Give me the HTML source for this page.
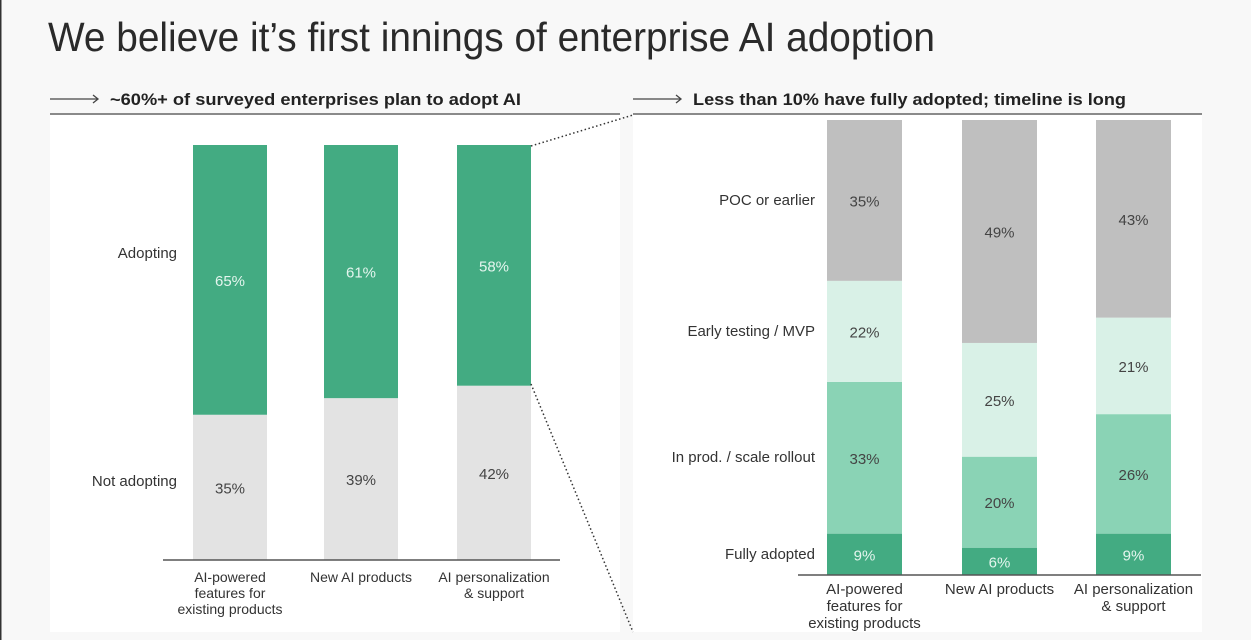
<!DOCTYPE html>
<html><head><meta charset="utf-8"><style>
html,body{margin:0;padding:0;background:#f8f8f8;}
svg{display:block;font-family:"Liberation Sans",sans-serif;}
</style></head><body>
<svg width="1251" height="640" viewBox="0 0 1251 640">
<rect x="0" y="0" width="1251" height="640" fill="#f8f8f8"/>
<rect x="0" y="0" width="1.5" height="640" fill="#333"/>
<text x="48" y="51" font-size="41" fill="#2a2a2a" textLength="887" lengthAdjust="spacingAndGlyphs">We believe it’s first innings of enterprise AI adoption</text>
<rect x="50" y="115" width="570" height="517" fill="#fff"/>
<rect x="633" y="115" width="569" height="517" fill="#fff"/>
<g>
<line x1="50" y1="99" x2="97" y2="99" stroke="#444" stroke-width="1.3"/><path d="M93 95 L98 99 L93 103" fill="none" stroke="#444" stroke-width="1.3"/>
<text x="110" y="105" font-size="17" font-weight="bold" fill="#222" textLength="411" lengthAdjust="spacingAndGlyphs">~60%+ of surveyed enterprises plan to adopt AI</text>
<line x1="50" y1="114" x2="620" y2="114" stroke="#666" stroke-width="1.5"/>
</g>
<g>
<line x1="633" y1="99" x2="680" y2="99" stroke="#444" stroke-width="1.3"/><path d="M676 95 L681 99 L676 103" fill="none" stroke="#444" stroke-width="1.3"/>
<text x="693" y="105" font-size="17" font-weight="bold" fill="#222" textLength="433" lengthAdjust="spacingAndGlyphs">Less than 10% have fully adopted; timeline is long</text>
<line x1="633" y1="114" x2="1202" y2="114" stroke="#666" stroke-width="1.5"/>
</g>
<g id="left"></g>
<g id="right"></g>
<line x1="531" y1="146" x2="633" y2="115" stroke="#333" stroke-width="1.5" stroke-dasharray="1.5 2.5"/>
<line x1="531" y1="384" x2="633" y2="632" stroke="#333" stroke-width="1.5" stroke-dasharray="1.5 2.5"/>
</svg>
<script>
const NS="http://www.w3.org/2000/svg";
const leftCats=[["AI-powered","features for","existing products"],["New AI products"],["AI personalization","& support"]];
const notAdopting=[35,39,42];
const adopting=[65,61,58];
const rightCats=[["AI-powered","features for","existing products"],["New AI products"],["AI personalization","& support"]];
const fullyAdopted=[9,6,9];
const inProd=[33,20,26];
const earlyTesting=[22,25,21];
const pocEarlier=[35,49,43];

function mk(p,tag,a,txt){const e=document.createElementNS(NS,tag);for(const k in a)e.setAttribute(k,a[k]);if(txt!==undefined)e.textContent=txt;p.appendChild(e);return e;}

// left chart
const L=document.getElementById('left');
const lBase=560,lTop=145,lX=[193,324,457],lW=74;
const ly=v=>lBase-(lBase-lTop)*v/100;
const lSeries=[{d:notAdopting,c:"#e3e3e3",t:"#444",n:"not-adopting"},{d:adopting,c:"#43ab82",t:"#e4f5ee",n:"adopting"}];
lX.forEach((x,i)=>{
  let cum=0;
  lSeries.forEach(s=>{
    const v=s.d[i];const y0=ly(cum),y1=ly(cum+v);cum+=v;
    const r=mk(L,'rect',{x:x,y:y1,width:lW,height:y0-y1,fill:s.c});
    
    
    const t=mk(L,'text',{x:x+lW/2,y:(y0+y1)/2+6,'font-size':15,'text-anchor':'middle',fill:s.t},v+'%');
    
    
  });
  const g=mk(L,'text',{'font-size':14,'text-anchor':'middle',fill:'#333'});
  
  
  leftCats[i].forEach((s,j)=>mk(g,'tspan',{x:x+lW/2,y:582+j*16},s));
});
const la=mk(L,'line',{x1:163,y1:lBase,x2:560,y2:lBase,stroke:'#555','stroke-width':1.5});


[["Adopting",258],["Not adopting",486]].forEach(([s,y])=>{
  const t=mk(L,'text',{x:177,y:y,'font-size':15,'text-anchor':'end',fill:'#333'},s);
  
  
});

// right chart
const R=document.getElementById('right');
const rBase=575,rTop=120,rX=[827,962,1096],rW=75;
const rSeries=[{d:fullyAdopted,c:"#43ab82",t:"#e4f5ee",n:"fully-adopted"},{d:inProd,c:"#8ad3b5",t:"#444",n:"in-prod"},{d:earlyTesting,c:"#d9f1e7",t:"#444",n:"early-testing"},{d:pocEarlier,c:"#bfbfbf",t:"#444",n:"poc"}];
rX.forEach((x,i)=>{
  const tot=rSeries.reduce((a,s)=>a+s.d[i],0);
  const ry=v=>rBase-(rBase-rTop)*v/tot;
  let cum=0;
  rSeries.forEach(s=>{
    const v=s.d[i];const y0=ry(cum),y1=ry(cum+v);cum+=v;
    const r=mk(R,'rect',{x:x,y:y1,width:rW,height:y0-y1,fill:s.c});
    
    
    const t=mk(R,'text',{x:x+rW/2,y:(y0+y1)/2+6,'font-size':15,'text-anchor':'middle',fill:s.t},v+'%');
    
    
  });
  const g=mk(R,'text',{'font-size':15,'text-anchor':'middle',fill:'#333'});
  
  
  rightCats[i].forEach((s,j)=>mk(g,'tspan',{x:x+rW/2,y:594+j*17},s));
});
const ra=mk(R,'line',{x1:798,y1:rBase,x2:1201,y2:rBase,stroke:'#555','stroke-width':1.5});


[["POC or earlier",205],["Early testing / MVP",336],["In prod. / scale rollout",462],["Fully adopted",559]].forEach(([s,y])=>{
  const t=mk(R,'text',{x:815,y:y,'font-size':15,'text-anchor':'end',fill:'#333'},s);
  
  
});
</script>
</body></html>
